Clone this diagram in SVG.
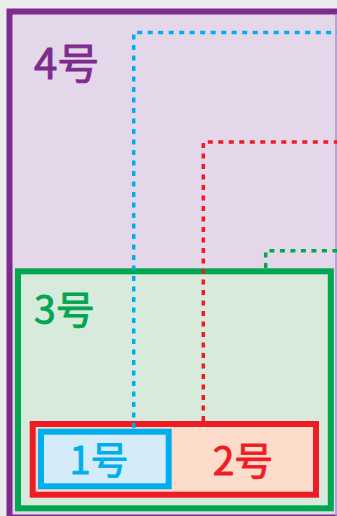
<svg xmlns="http://www.w3.org/2000/svg" width="337" height="516" viewBox="0 0 337 516">
<style>
.lbl{font-family:"Noto Sans CJK SC","Noto Sans",sans-serif;font-weight:400;stroke-width:0.9;stroke-linejoin:round;}
.dot{fill:none;stroke-width:3.5;stroke-dasharray:5 5.5;}
</style>
<rect x="0" y="0" width="337" height="516" fill="#ececec"/>
<g id="n4">
<rect x="9.5" y="11.5" width="333" height="506" fill="#e4d7ea" stroke="#7d2b8f" stroke-width="6"/>
<line x1="336" y1="14" x2="336" y2="516" stroke="#b58ec6" stroke-width="1.5"/>
<text class="lbl" x="34" y="79" font-size="42" fill="#7d2b8f" stroke="#7d2b8f">4号</text>
</g>
<g id="n3">
<rect x="18" y="271.3" width="312.8" height="237" fill="#d7eadb" stroke="#00a650" stroke-width="6"/>
<text class="lbl" x="34" y="324" font-size="39" fill="#00a650" stroke="#00a650">3号</text>
</g>
<g id="n2">
<rect x="32.7" y="424" width="283.3" height="70.7" fill="#fddccc" stroke="#ee1c25" stroke-width="6"/>
<text class="lbl" x="243" y="475" font-size="39" fill="#ee1c25" stroke="#ee1c25" text-anchor="middle">2号</text>
</g>
<g id="n1">
<rect x="41" y="431.7" width="127.7" height="54.6" fill="#d4ecf9" stroke="#00aeef" stroke-width="6"/>
<text class="lbl" x="99" y="474" font-size="38" fill="#00aeef" stroke="#00aeef" text-anchor="middle">1号</text>
</g>
<g id="connectors">
<path class="dot" d="M133.7 428 V32.5 H337" stroke="#00aeef"/>
<path class="dot" d="M203.3 421 V142 H337" stroke="#ee1c25"/>
<path class="dot" d="M265.7 268 V250.7 H337" stroke="#00a650"/>
</g>
</svg>
